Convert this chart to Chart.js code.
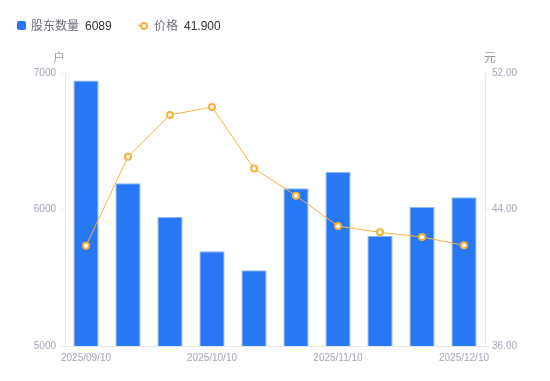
<!DOCTYPE html>
<html><head><meta charset="utf-8">
<script src="https://cdn.jsdelivr.net/npm/chart.js@4"></script>
<style>
html,body{margin:0;padding:0;background:#fff;}
#wrap{position:relative;width:550px;height:381px;font-family:"Noto Sans CJK SC","Noto Sans",sans-serif;}
#c{position:absolute;left:0;top:0;}
.lg{position:absolute;top:16px;font-size:12px;line-height:18px;white-space:nowrap;}
.nm{color:#6b6e7a;}
.vl{color:#333;margin-left:6px;font-family:"Liberation Sans",Arial,sans-serif;}
.sq{display:inline-block;width:9px;height:9px;background:#2878f5;border-radius:2px;vertical-align:middle;margin-right:5px;position:relative;top:-1px;}
.ln{display:inline-block;position:relative;width:10px;height:9px;vertical-align:middle;margin-right:6px;top:-1px;}
.ln:before{content:"";position:absolute;left:0;right:0;top:4px;height:1px;background:#f8b13c;}
.ln:after{content:"";position:absolute;left:1.5px;top:1px;width:4px;height:4px;border:2px solid #f8b13c;border-radius:50%;background:#fff;}
</style></head>
<body><div id="wrap"><canvas id="c" width="550" height="381"></canvas>
<div class="lg" style="left:17px"><span class="sq"></span><span class="nm">股东数量</span><span class="vl">6089</span></div>
<div class="lg" style="left:138px"><span class="ln"></span><span class="nm">价格</span><span class="vl">41.900</span></div>
</div>
<script>
const categories = ["2025/09/10","2025/09/20","2025/09/30","2025/10/10","2025/10/20","2025/10/31","2025/11/10","2025/11/20","2025/11/30","2025/12/10"];
const holders = [6945, 6192, 5945, 5694, 5555, 6155, 6275, 5807, 6018, 6089];
const prices = [41.88, 47.09, 49.54, 50.01, 46.41, 44.81, 43.03, 42.66, 42.39, 41.90];
const shownTickIdx = [0, 3, 6, 9];
const leftTicks = [5000, 6000, 7000];
const rightTicks = [36, 44, 52];

const tickColor = '#a3a6b8';
const lineCol = '#e6e7ec';
const tickFont = { size: 10, family: '"Liberation Sans", Arial, sans-serif' };

const unitPlugin = {
  id: 'units',
  afterDraw(chart) {
    const ctx = chart.ctx;
    ctx.save();
    ctx.fillStyle = '#999';
    ctx.font = '12px "Noto Sans CJK SC", sans-serif';
    ctx.textBaseline = 'middle';
    ctx.textAlign = 'center';
    ctx.fillText('户', 59, 57);
    ctx.fillText('元', 490, 57);
    ctx.restore();
  }
};

new Chart(document.getElementById('c'), {
  data: {
    labels: categories,
    datasets: [
      {
        type: 'line', label: '价格', data: prices, yAxisID: 'y1',
        borderColor: '#f8b13c', borderWidth: 1, backgroundColor: '#fff',
        pointRadius: 3, pointBorderWidth: 2, pointBackgroundColor: '#fff', pointBorderColor: '#f8b13c',
        tension: 0, order: 0
      },
      {
        type: 'bar', label: '股东数量', data: holders, yAxisID: 'y',
        backgroundColor: '#2878f5', borderColor: '#8db6fa', borderWidth: 1,
        barPercentage: 0.6, categoryPercentage: 1.0, order: 1
      }
    ]
  },
  options: {
    responsive: false, animation: false,
    layout: { padding: { top: 73, left: 0, right: 0, bottom: 0 } },
    plugins: { legend: { display: false }, tooltip: { enabled: false } },
    scales: {
      x: {
        offset: true,
        grid: { display: false, drawTicks: false },
        border: { display: true, color: lineCol },
        ticks: {
          autoSkip: false, maxRotation: 0, color: tickColor, padding: 6, font: tickFont,
          callback: function(v, i) { return shownTickIdx.includes(i) ? categories[i] : ''; }
        },
        afterFit(s) { s.height = 35; }
      },
      y: {
        position: 'left', min: 5000, max: 7000,
        afterBuildTicks(s) { s.ticks = leftTicks.map(v => ({ value: v })); },
        grid: { drawOnChartArea: false, drawTicks: true, tickLength: 4, tickColor: lineCol },
        border: { display: true, color: lineCol },
        ticks: { color: tickColor, padding: 5, font: tickFont, callback: v => String(v) },
        afterFit(s) { s.width = 65; }
      },
      y1: {
        position: 'right', min: 36, max: 52,
        afterBuildTicks(s) { s.ticks = rightTicks.map(v => ({ value: v })); },
        grid: { drawOnChartArea: false, drawTicks: true, tickLength: 4, tickColor: lineCol },
        border: { display: true, color: lineCol },
        ticks: { color: tickColor, padding: 3, font: tickFont,
          callback: v => Number(v).toFixed(2) },
        afterFit(s) { s.width = 65; }
      }
    }
  },
  plugins: [unitPlugin]
});
</script></body></html>
